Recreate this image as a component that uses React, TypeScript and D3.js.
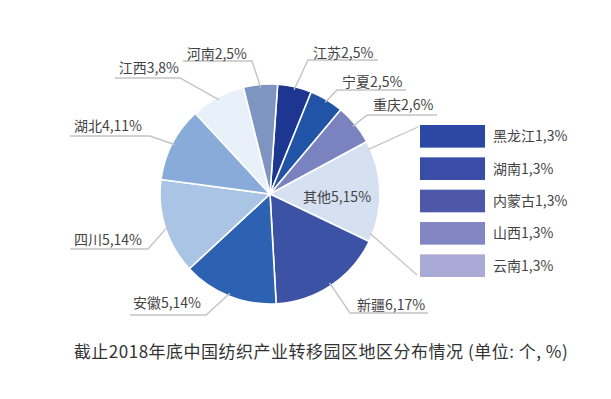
import React from "react";
import * as d3 from "d3";

const regions = ["江苏", "宁夏", "重庆", "其他", "新疆", "安徽", "四川", "湖北", "江西", "河南"];
const counts = [2, 2, 2, 5, 6, 5, 5, 4, 3, 2];
const percents = [5, 5, 6, 15, 17, 14, 14, 11, 8, 5];
const sliceColors = ["#1c3691", "#2153a7", "#7a83c0", "#d5e0f1", "#3c52a4", "#2d61b2", "#aac4e6", "#88abd9", "#e8f0fa", "#7e94c1"];

const otherRegions = ["黑龙江", "湖南", "内蒙古", "山西", "云南"];
const otherCounts = [1, 1, 1, 1, 1];
const otherPercents = [3, 3, 3, 3, 3];
const otherColors = ["#2c47a4", "#3a4da6", "#4d58ab", "#8287c4", "#aaaad6"];

const title = "截止2018年底中国纺织产业转移园区地区分布情况 (单位: 个, %)";

// label layout: elbow point, underline end x, text anchor
const labelLayout: Record<string, { ex: number; ey: number; ux: number; tx: number; ty: number; anchor: "start" | "end" }> = {
  江苏: { ex: 308, ey: 60, ux: 378, tx: 313, ty: 58, anchor: "start" },
  宁夏: { ex: 337, ey: 90, ux: 406, tx: 342, ty: 87, anchor: "start" },
  重庆: { ex: 367, ey: 115, ux: 437, tx: 373, ty: 110, anchor: "start" },
  新疆: { ex: 350, ey: 313, ux: 428, tx: 357, ty: 310, anchor: "start" },
  安徽: { ex: 206, ey: 315, ux: 130, tx: 201, ty: 308, anchor: "end" },
  四川: { ex: 148, ey: 249, ux: 70, tx: 142, ty: 245, anchor: "end" },
  湖北: { ex: 150, ey: 136, ux: 70, tx: 142, ty: 131, anchor: "end" },
  江西: { ex: 180, ey: 78, ux: 115, tx: 179, ty: 73, anchor: "end" },
  河南: { ex: 252, ey: 61, ux: 183, tx: 247, ty: 59, anchor: "end" },
};

const FONT = "'Noto Sans CJK SC', 'Noto Sans', sans-serif";

export default function App() {
  const width = 611;
  const height = 399;
  const cx = 270;
  const cy = 194;
  const r = 110;
  const offset = (4 * Math.PI) / 180;

  const data = regions.map((name, i) => ({ name, count: counts[i], pct: percents[i], color: sliceColors[i] }));
  const pie = d3
    .pie<any>()
    .sort(null)
    .value((d) => d.pct)
    .startAngle(offset)
    .endAngle(offset + Math.PI * 2);
  const arcs = pie(data);
  const arcGen = d3.arc<any>().innerRadius(0).outerRadius(r);
  const pt = (a: number, rr: number) => [cx + rr * Math.sin(a), cy - rr * Math.cos(a)];

  const legendY = d3.scaleBand<number>().domain(otherRegions.map((_, i) => i)).range([125, 277]).paddingInner(0.3);
  const lx = 420;
  const lw = 65;

  const otherArc = arcs.find((a) => a.data.name === "其他")!;
  const p1 = pt(otherArc.startAngle + 0.07, r - 2);
  const p2 = pt(otherArc.endAngle - 0.07, r - 2);
  const b0 = legendY(0)!;
  const b4 = legendY(4)! + legendY.bandwidth();

  return (
    <svg width={width} height={height} style={{ position: "absolute", left: 0, top: 0, background: "#fff" }}>
      <rect x={0} y={0} width={width} height={height} fill="#fff" />
      <g>
        {arcs.map((a) => (
          <path
            key={a.data.name}
            d={arcGen(a) as string}
            transform={`translate(${cx},${cy})`}
            fill={a.data.color}
            stroke="#fff"
            strokeWidth={1.6}
            strokeLinejoin="round"
          />
        ))}
      </g>
      {arcs.map((a) => {
        const L = labelLayout[a.data.name];
        if (!L) return null;
        const mid = (a.startAngle + a.endAngle) / 2;
        const [px, py] = pt(mid, r - 3);
        return (
          <g key={"l" + a.data.name}>
            <polyline
              points={`${px},${py} ${L.ex},${L.ey} ${L.ux},${L.ey}`}
              fill="none"
              stroke="#c4c4c4"
              strokeWidth={1.4}
            />
            <text
              x={L.tx}
              y={L.ty}
              textAnchor={L.anchor}
              fontFamily={FONT}
              fontSize={14}
              fill="#444"
            >
              {`${a.data.name}${a.data.count},${a.data.pct}%`}
            </text>
          </g>
        );
      })}
      <text x={337} y={201.5} textAnchor="middle" fontFamily={FONT} fontSize={14} fill="#444">
        {`${otherArc.data.name}${otherArc.data.count},${otherArc.data.pct}%`}
      </text>
      <line x1={p1[0]} y1={p1[1]} x2={lx - 2} y2={b0 + 2} stroke="#c4c4c4" strokeWidth={1.2} />
      <line x1={p2[0]} y1={p2[1]} x2={lx - 3} y2={b4 - 2} stroke="#c4c4c4" strokeWidth={1.2} />
      {otherRegions.map((name, i) => {
        const y = legendY(i)!;
        const h = legendY.bandwidth();
        return (
          <g key={"lg" + name}>
            <rect x={lx} y={y} width={lw} height={h} fill={otherColors[i]} />
            <text x={lx + 73} y={y + h / 2 + 5} fontFamily={FONT} fontSize={14} fill="#444">
              {`${name}${otherCounts[i]},${otherPercents[i]}%`}
            </text>
          </g>
        );
      })}
      <text x={321} y={357.5} textAnchor="middle" fontFamily={FONT} fontSize={17} letterSpacing={0.5} fill="#333">
        {title}
      </text>
    </svg>
  );
}
